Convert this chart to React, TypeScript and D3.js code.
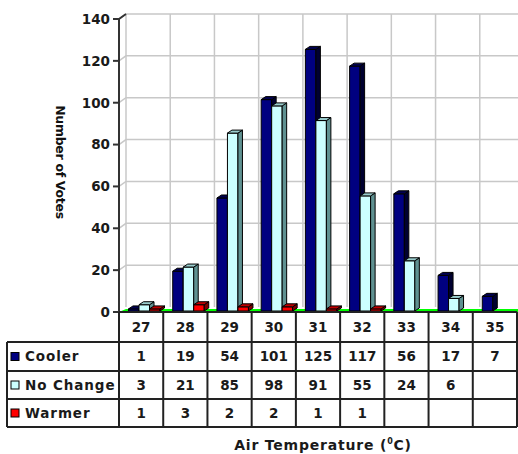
import * as d3 from "d3";
import { useEffect, useRef } from "react";

// chart data
const categories = ["27", "28", "29", "30", "31", "32", "33", "34", "35"];
const seriesNames = ["Cooler", "No Change", "Warmer"];
const cooler = [1, 19, 54, 101, 125, 117, 56, 17, 7];
const noChange = [3, 21, 85, 98, 91, 55, 24, 6, null];
const warmer = [1, 3, 2, 2, 1, 1, null, null, null];
const yTicks = [0, 20, 40, 60, 80, 100, 120, 140];

const frontColors = ["#000080", "#ccffff", "#ff0000"];
const sideColors = ["#000030", "#5f9191", "#800000"];
const topColors = ["#000050", "#99cccc", "#c00000"];

export default function App() {
  const ref = useRef(null);

  useEffect(() => {
    const svg = d3.select(ref.current);
    svg.selectAll("*").remove();

    const W = 518;
    const left = 119;
    const right = 517;
    const y0 = 312;
    const yTop = 19;
    const wallDx = 7;
    const wallDy = -5;
    const font = "'DejaVu Sans', Verdana, sans-serif";

    const x = d3.scaleBand<string>().domain(categories).range([left, right]);
    const sub = d3.scaleBand<string>().domain(seriesNames).range([9.5, 41]);
    const y = d3.scaleLinear().domain([0, 140]).range([y0, yTop]);

    const values = [cooler, noChange, warmer];

    // back wall grid
    const grid = svg.append("g").attr("stroke", "#c8c8c8").attr("stroke-width", 1.5).attr("fill", "none");
    yTicks.forEach((t) => {
      if (t === 0) return;
      const yy = y(t);
      grid.append("path").attr("d", `M${left},${yy}L${left + wallDx},${yy + wallDy}L${W},${yy + wallDy}`);
    });
    const bounds = categories.map((c) => x(c) as number);
    bounds.forEach((b) => {
      grid.append("line")
        .attr("x1", b + wallDx).attr("x2", b + wallDx)
        .attr("y1", yTop + wallDy).attr("y2", y0 + wallDy);
    });

    // floor
    svg.append("path")
      .attr("d", `M${left},${y0}L${left + wallDx},${y0 + wallDy + 2}L${W},${y0 + wallDy + 2}L${W},${y0}Z`)
      .attr("fill", "#00ff00");

    // bars
    const dx = 4.5;
    const dy = -3;
    const bw = sub.bandwidth();
    const bars = svg.append("g").attr("stroke", "#000").attr("stroke-width", 1).attr("stroke-linejoin", "round");
    categories.forEach((c, i) => {
      seriesNames.forEach((s, k) => {
        const v = values[k][i];
        if (v === null || v === undefined) return;
        const x0 = (x(c) as number) + (sub(s) as number);
        const yt = y(v) - 1;
        const yb = y(0) - 1;
        bars.append("rect")
          .attr("x", x0).attr("y", yt).attr("width", bw).attr("height", yb - yt)
          .attr("fill", frontColors[k]);
        bars.append("path")
          .attr("d", `M${x0 + bw},${yt}L${x0 + bw + dx},${yt + dy}L${x0 + bw + dx},${yb + dy}L${x0 + bw},${yb}Z`)
          .attr("fill", sideColors[k]);
        bars.append("path")
          .attr("d", `M${x0},${yt}L${x0 + dx},${yt + dy}L${x0 + bw + dx},${yt + dy}L${x0 + bw},${yt}Z`)
          .attr("fill", topColors[k]);
      });
    });

    // y axis
    const axisG = svg.append("g").attr("stroke", "#333").attr("stroke-width", 2).attr("fill", "none");
    axisG.append("path").attr("d", `M${left + wallDx},${yTop + wallDy}L${left},${yTop}L${left},${y0}`);
    yTicks.forEach((t) => {
      axisG.append("line").attr("x1", left - 6).attr("x2", left).attr("y1", y(t)).attr("y2", y(t));
    });
    svg.append("g")
      .selectAll("text")
      .data(yTicks)
      .join("text")
      .attr("x", left - 9)
      .attr("y", (d) => y(d))
      .attr("dy", "0.36em")
      .attr("text-anchor", "end")
      .attr("font-family", font)
      .attr("font-weight", "bold")
      .attr("font-size", 13.5)
      .attr("fill", "#1a1a1a")
      .text((d) => d);

    svg.append("text")
      .attr("transform", "translate(56,162) rotate(90)")
      .attr("text-anchor", "middle")
      .attr("font-family", font)
      .attr("font-weight", "bold")
      .attr("font-size", 12.5)
      .attr("letter-spacing", -0.3)
      .attr("fill", "#111")
      .text("Number of Votes");

    // data table
    const tableLeft = 7;
    const rowEdges = [y0, 342, 371, 399, 427];
    const tbl = svg.append("g").attr("stroke", "#222").attr("stroke-width", 2).attr("fill", "none");
    tbl.append("line").attr("x1", left).attr("x2", right).attr("y1", y0).attr("y2", y0);
    rowEdges.slice(1).forEach((r) => {
      tbl.append("line").attr("x1", tableLeft).attr("x2", right).attr("y1", r).attr("y2", r);
    });
    tbl.append("line").attr("x1", tableLeft).attr("x2", tableLeft).attr("y1", rowEdges[1]).attr("y2", rowEdges[4]);
    [...bounds, right].forEach((b) => {
      tbl.append("line").attr("x1", b).attr("x2", b).attr("y1", y0).attr("y2", rowEdges[4]);
    });

    const txt = svg.append("g")
      .attr("font-family", font)
      .attr("font-weight", "bold")
      .attr("font-size", 13.5)
      .attr("fill", "#1a1a1a")
      .attr("text-anchor", "middle");
    categories.forEach((c) => {
      txt.append("text")
        .attr("x", (x(c) as number) + x.bandwidth() / 2)
        .attr("y", (rowEdges[0] + rowEdges[1]) / 2)
        .attr("dy", "0.36em")
        .text(c);
    });
    seriesNames.forEach((s, k) => {
      const cy = (rowEdges[k + 1] + rowEdges[k + 2]) / 2;
      svg.append("rect")
        .attr("x", 11).attr("y", cy - 4).attr("width", 8).attr("height", 8)
        .attr("fill", frontColors[k]).attr("stroke", "#000").attr("stroke-width", 1);
      svg.append("text")
        .attr("x", 25).attr("y", cy).attr("dy", "0.36em")
        .attr("font-family", font).attr("font-weight", "bold").attr("font-size", 13.5)
        .attr("letter-spacing", 0.9).attr("fill", "#1a1a1a")
        .text(s);
      categories.forEach((c, i) => {
        const v = values[k][i];
        if (v === null || v === undefined) return;
        txt.append("text")
          .attr("x", (x(c) as number) + x.bandwidth() / 2)
          .attr("y", cy)
          .attr("dy", "0.36em")
          .text(v);
      });
    });

    // x axis title
    const title = svg.append("text")
      .attr("x", 323).attr("y", 450)
      .attr("text-anchor", "middle")
      .attr("font-family", font).attr("font-weight", "bold").attr("font-size", 14)
      .attr("letter-spacing", 0.8).attr("fill", "#1a1a1a");
    title.append("tspan").text("Air Temperature (");
    title.append("tspan").attr("dy", -6).attr("font-size", 8).text("0");
    title.append("tspan").attr("dy", 6).text("C)");
  }, []);

  return (
    <svg
      ref={ref}
      width={518}
      height={454}
      style={{ position: "absolute", left: 0, top: 0, display: "block", background: "#fff" }}
    />
  );
}
